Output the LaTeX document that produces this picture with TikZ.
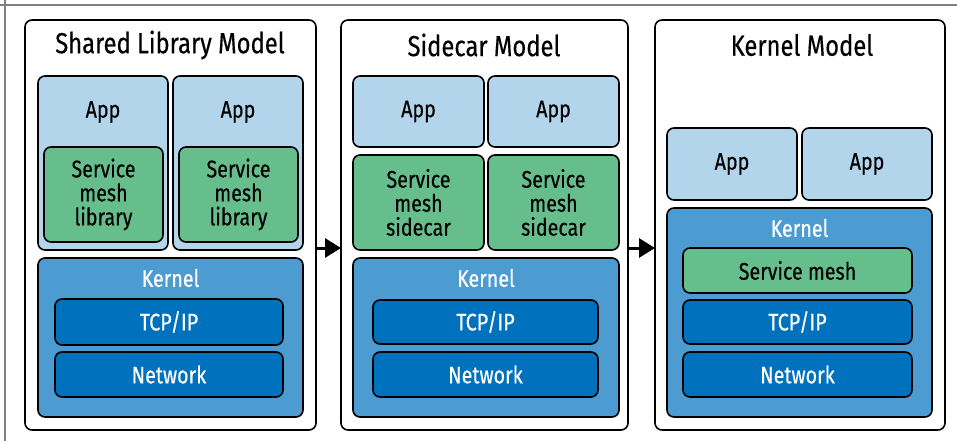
\documentclass[tikz,border=0pt]{standalone}
\usepackage{fontspec}
\setmainfont{Fira Sans}[FakeStretch=0.82,FakeBold=0.4]
\usetikzlibrary{arrows.meta}
\definecolor{appblue}{HTML}{B3D5EB}
\definecolor{meshgreen}{HTML}{66BE8C}
\definecolor{kernelblue}{HTML}{4C9CD2}
\definecolor{stackblue}{HTML}{0071BD}
\newcommand{\lblsize}{\fontsize{24}{24}\selectfont}
\newcommand{\ttlsize}{\fontsize{29}{30}\selectfont}

\begin{document}
\begin{tikzpicture}[line cap=round,line join=round,x=1pt,y=-1pt,
	box/.style={draw=black,line width=1.6pt,rounded corners=7pt,anchor=north west,inner sep=0pt,outer sep=0pt},
	panel/.style={box,fill=white},
	appbox/.style={box,fill=appblue},
	meshbox/.style={box,fill=meshgreen,font=\lblsize,align=center,text=black},
	kernelbox/.style={box,fill=kernelblue},
	stackbox/.style={box,fill=stackblue,font=\lblsize,text=white},
	lbl/.style={font=\lblsize,inner sep=0pt},
	ttl/.style={font=\ttlsize,inner sep=0pt},
	flow/.style={line width=3pt,line cap=butt,-{Triangle[length=16pt,width=19pt]}}]
	\useasboundingbox (0,0) rectangle (957,441);
	\draw [line width=1.2pt,color=gray] (0,5)-- (957,5);
	\draw [line width=1.2pt,color=gray] (5,0)-- (5,441);
	% shared library model
	\node [panel,minimum width=291,minimum height=410] (shared) at (25,20) {};
	\node [ttl] (sharedttl) at (170,45) {Shared Library Model};
	\node [appbox,minimum width=130,minimum height=174] (sapp1) at (38,76) {};
	\node [lbl] (sapp1lbl) at (103,112) {App};
	\node [meshbox,minimum width=119,minimum height=95] (slib1) at (44,147) {Service\\mesh\\library};
	\node [appbox,minimum width=130,minimum height=174] (sapp2) at (173,76) {};
	\node [lbl] (sapp2lbl) at (238,112) {App};
	\node [meshbox,minimum width=119,minimum height=95] (slib2) at (179,147) {Service\\mesh\\library};
	\node [kernelbox,minimum width=265,minimum height=159] (skern) at (38,258) {};
	\node [lbl,text=white] (skernlbl) at (170.5,278) {Kernel};
	\node [stackbox,minimum width=228,minimum height=46] (stcp) at (55,299) {TCP/IP};
	\node [stackbox,minimum width=228,minimum height=45] (snet) at (55,352) {Network};
	% sidecar model
	\node [panel,minimum width=287,minimum height=410] (sidecar) at (341,20) {};
	\node [ttl] (sidecarttl) at (484,45) {Sidecar Model};
	\node [appbox,minimum width=131,minimum height=71] (capp1) at (353,76) {};
	\node [lbl] (capp1lbl) at (capp1.center) {App};
	\node [appbox,minimum width=131,minimum height=71] (capp2) at (488,76) {};
	\node [lbl] (capp2lbl) at (capp2.center) {App};
	\node [meshbox,minimum width=131,minimum height=95] (ccar1) at (353,155) {Service\\mesh\\sidecar};
	\node [meshbox,minimum width=131,minimum height=95] (ccar2) at (488,155) {Service\\mesh\\sidecar};
	\node [kernelbox,minimum width=266,minimum height=159] (ckern) at (353,258) {};
	\node [lbl,text=white] (ckernlbl) at (486,278) {Kernel};
	\node [stackbox,minimum width=225,minimum height=44] (ctcp) at (373,300) {TCP/IP};
	\node [stackbox,minimum width=225,minimum height=45] (cnet) at (373,352) {Network};
	% kernel model
	\node [panel,minimum width=290,minimum height=410] (kernel) at (655,20) {};
	\node [ttl] (kernelttl) at (802,45) {Kernel Model};
	\node [appbox,minimum width=130,minimum height=72] (kapp1) at (667,128) {};
	\node [lbl] (kapp1lbl) at (kapp1.center) {App};
	\node [appbox,minimum width=130,minimum height=72] (kapp2) at (802,128) {};
	\node [lbl] (kapp2lbl) at (kapp2.center) {App};
	\node [kernelbox,minimum width=265,minimum height=209] (kkern) at (667,208) {};
	\node [lbl,text=white] (kkernlbl) at (799.5,228) {Kernel};
	\node [meshbox,minimum width=229,minimum height=45] (kmesh) at (683,248) {Service mesh};
	\node [stackbox,minimum width=229,minimum height=44] (ktcp) at (683,300) {TCP/IP};
	\node [stackbox,minimum width=229,minimum height=45] (knet) at (683,352) {Network};
	% arrows
	\draw [flow] (shared.east |- 0,248)-- (sidecar.west |- 0,248);
	\draw [flow] (sidecar.east |- 0,248)-- (kernel.west |- 0,248);
\end{tikzpicture}
\end{document}
